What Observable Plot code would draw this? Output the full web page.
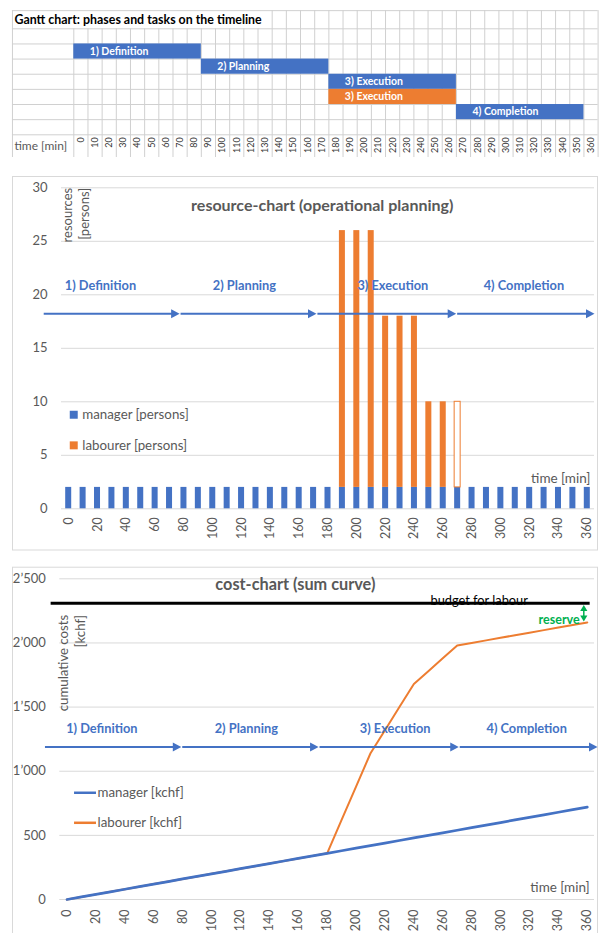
<!DOCTYPE html>
<html>
<head>
<meta charset="utf-8">
<script src="https://cdn.jsdelivr.net/npm/d3@7"></script>
<script src="https://cdn.jsdelivr.net/npm/@observablehq/plot@0.6"></script>
<style>
  html, body { margin: 0; padding: 0; background: #fff; }
  #wrap { position: relative; width: 602px; height: 933px; overflow: hidden; background: #fff; font-family: Lato, "Open Sans", sans-serif; }
  #wrap svg { position: absolute; left: 0; }
</style>
</head>
<body>
<div id="wrap"></div>
<script>
// ---------- data ----------
const times = [0,10,20,30,40,50,60,70,80,90,100,110,120,130,140,150,160,170,180,
               190,200,210,220,230,240,250,260,270,280,290,300,310,320,330,340,350,360];

const ganttTitle = "Gantt chart: phases and tasks on the timeline";
const ganttTask  = ["1) Definition", "2) Planning", "3) Execution", "3) Execution", "4) Completion"];
const ganttStart = [0, 90, 180, 180, 270];
const ganttEnd   = [90, 180, 270, 270, 360];
const ganttRow   = [1, 2, 3, 4, 5];
const ganttKind  = ["manager", "manager", "manager", "labourer", "manager"];

const managerPersons  = [2,2,2,2,2,2,2,2,2,2,2,2,2,2,2,2,2,2,2, 2,2,2,2,2,2,2,2,2, 2,2,2,2,2,2,2,2,2];
const labourerPersons = [0,0,0,0,0,0,0,0,0,0,0,0,0,0,0,0,0,0,0, 24,24,24,16,16,16,8,8,8, 0,0,0,0,0,0,0,0,0];
const labourerPlannedOnly = [270];

const managerCost  = [0,20,40,60,80,100,120,140,160,180,200,220,240,260,280,300,320,340,360,
                      380,400,420,440,460,480,500,520,540,560,580,600,620,640,660,680,700,720];
const labourerCost = [0,20,40,60,80,100,120,140,160,180,200,220,240,260,280,300,320,340,360,
                      620,880,1140,1320,1500,1680,1780,1880,1980,2000,2020,2040,2060,2080,2100,2120,2140,2160];
const budgetForLabour = 2310;

const resourceTicks   = [0, 5, 10, 15, 20, 25, 30];
const costTicks       = [0, 500, 1000, 1500, 2000, 2500];
const costTickLabels  = ["0", "500", "1’000", "1’500", "2’000", "2’500"];
const timeTickLabels  = [0,20,40,60,80,100,120,140,160,180,200,220,240,260,280,300,320,340,360];

const phaseNames   = ["1) Definition", "2) Planning", "3) Execution", "4) Completion"];
const phaseFrom    = [-17, 78, 173, 270];
const phaseTo      = [77, 172, 269, 365];
const phaseLabelAt = [22, 122, 225, 316];

const seriesColor = { manager: "#4472C4", labourer: "#ED7D31" };
const GRAY = "#595959";
const GRID = "#d9d9d9";

// ---------- derived tables ----------
const ganttData = ganttTask.map((task, i) => ({ task, start: ganttStart[i], end: ganttEnd[i], row: ganttRow[i], kind: ganttKind[i] }));
const resData = [];
times.forEach((t, i) => {
  resData.push({ t, series: "manager", value: managerPersons[i], hollow: false });
  resData.push({ t, series: "labourer", value: labourerPersons[i], hollow: labourerPlannedOnly.includes(t) });
});
const costData = times.map((t, i) => ({ t, manager: managerCost[i], labourer: labourerCost[i] }));
const phases = phaseNames.map((name, i) => ({ name, from: phaseFrom[i], to: phaseTo[i], at: phaseLabelAt[i] }));

// arrowhead symbols (tip at origin)
const headRight = { draw(c) { c.moveTo(0, 0); c.lineTo(-8.5, -4.5); c.lineTo(-8.5, 4.5); c.closePath(); } };
const headUp    = { draw(c) { c.moveTo(0, 0); c.lineTo(-3.6, 6); c.lineTo(3.6, 6); c.closePath(); } };
const headDown  = { draw(c) { c.moveTo(0, 0); c.lineTo(-3.6, -6); c.lineTo(3.6, -6); c.closePath(); } };

const baseStyle = { fontFamily: "Lato, 'Open Sans', sans-serif", fontSize: "12px", background: "transparent", overflow: "visible" };
const wrap = document.getElementById("wrap");

function phaseMarks(yArrow, yLabel, dx) {
  return [
    Plot.ruleY(phases, { x1: "from", x2: "to", y: yArrow, stroke: seriesColor.manager, strokeWidth: 2, insetRight: 5, dx }),
    Plot.dot(phases, { x: "to", y: yArrow, symbol: headRight, r: 4, fill: seriesColor.manager, stroke: "none", dx }),
    Plot.text(phases, { x: "at", y: yLabel, text: "name", fill: seriesColor.manager, fontWeight: "bold", fontSize: 12.8, dx })
  ];
}

// ---------- 1) Gantt ----------
const colLines = times.concat([370]);
const rowLines = [-1.2, 0, 1, 2, 3, 4, 5, 6, 7];
const gantt = Plot.plot({
  width: 602, height: 160, margin: 0,
  style: baseStyle,
  x: { type: "linear", domain: [0, 370], range: [73.3, 597.6], axis: null },
  y: { type: "linear", domain: [0, 7], range: [28.3, 134.3], axis: null },
  color: { type: "identity" },
  marks: [
    Plot.ruleY(rowLines, { y: d => d, x1: -43.3, x2: 370, stroke: "#d0d0d0" }),
    Plot.ruleX(colLines, { x: d => d, y1: d => (d >= 140 ? -1.2 : 0), y2: 8.5, stroke: "#d0d0d0" }),
    Plot.ruleX([-43.3], { x: d => d, y1: -1.2, y2: 8.5, stroke: "#d0d0d0" }),
    Plot.rect(ganttData, { x1: "start", x2: "end", y1: "row", y2: d => d.row + 1, fill: d => seriesColor[d.kind] }),
    Plot.text(ganttData, { x: "start", y: d => d.row + 0.5, text: "task", dx: 16, textAnchor: "start", fill: "white", fontWeight: "bold", fontSize: 10.5 }),
    Plot.text(times, { x: d => d + 5, y: 7, text: d => String(d), rotate: -90, textAnchor: "end", dy: 2.5, fontSize: 9, fill: "#333" }),
    Plot.text(["time [min]"], { x: -43.3, y: 7.75, text: d => d, dx: 2, textAnchor: "start", fontSize: 12, fill: GRAY }),
    Plot.text([ganttTitle], { x: -43.3, y: -0.6, text: d => d, dx: 2, textAnchor: "start", fontSize: 12.4, fontWeight: "bold", fill: "#000" })
  ]
});
gantt.style.top = "0px";
wrap.appendChild(gantt);

// ---------- 2) Resource chart ----------
const resource = Plot.plot({
  width: 602, height: 395, marginLeft: 12, marginRight: 5, marginTop: 16, marginBottom: 5.5,
  style: baseStyle,
  x: { type: "linear", domain: [-5, 365], range: [61, 594], axis: null },
  y: { type: "linear", domain: [0, 30], range: [348.3, 27.3], axis: null },
  color: { type: "identity" },
  marks: [
    Plot.frame({ stroke: GRID }),
    Plot.ruleY(resourceTicks, { y: d => d, x1: -5, x2: 365, stroke: GRID }),
    Plot.text(resourceTicks, { x: -5, y: d => d, text: d => String(d), dx: -14, textAnchor: "end", fill: GRAY, fontSize: 13 }),
    Plot.rectY(resData, {
      x1: d => d.t - 5, x2: d => d.t + 5, y: "value",
      fill: d => (d.hollow ? "white" : seriesColor[d.series]),
      stroke: d => (d.hollow ? seriesColor.labourer : "none"),
      strokeWidth: 1, insetLeft: 4.2, insetRight: 4.2
    }),
    Plot.text(timeTickLabels, { x: d => d, y: 0, text: d => String(d), rotate: -90, textAnchor: "end", dy: 8.5, fontSize: 12.5, fill: GRAY }),
    Plot.text(["resource-chart (operational planning)"], { x: 176, y: 28.35, text: d => d, fontSize: 16, fontWeight: "bold", fill: GRAY }),
    Plot.text(["resources\n[persons]"], { x: 4.7, y: 30, text: d => d, rotate: -90, textAnchor: "end", lineHeight: 1.3, fontSize: 13, fill: GRAY }),
    ...phaseMarks(18.22, 20.8, 0),
    Plot.dot(["manager", "labourer"], { x: 3.5, y: d => (d === "manager" ? 8.79 : 5.93), symbol: "square", r: 4.5, fill: d => seriesColor[d], stroke: "none" }),
    Plot.text(["manager [persons]", "labourer [persons]"], { x: 9.4, y: (d, i) => (i === 0 ? 8.79 : 5.93), text: d => d, textAnchor: "start", fontSize: 13.3, fill: GRAY }),
    Plot.text(["time [min]"], { x: 362.2, y: 2.86, text: d => d, textAnchor: "end", fontSize: 13.5, fill: GRAY })
  ]
});
resource.style.top = "160px";
wrap.appendChild(resource);

// ---------- 3) Cost chart ----------
const cost = Plot.plot({
  width: 602, height: 390, marginLeft: 12, marginRight: 5, marginTop: 11.7, marginBottom: 5,
  style: baseStyle,
  x: { type: "linear", domain: [-5, 365], range: [59.3, 594], axis: null },
  y: { type: "linear", domain: [0, 2500], range: [344, 23.3], axis: null },
  marks: [
    Plot.frame({ stroke: GRID }),
    Plot.ruleY(costTicks, { y: d => d, x1: -5, x2: 365, stroke: GRID }),
    Plot.text(costTicks, { x: -5, y: d => d, text: (d, i) => costTickLabels[i], dx: -14, textAnchor: "end", fill: GRAY, fontSize: 13 }),
    Plot.text(timeTickLabels, { x: d => d, y: 0, text: d => String(d), rotate: -90, textAnchor: "end", dy: 10, fontSize: 12.5, fill: GRAY }),
    Plot.line(costData, { x: "t", y: "labourer", stroke: seriesColor.labourer, strokeWidth: 2 }),
    Plot.line(costData, { x: "t", y: "manager", stroke: seriesColor.manager, strokeWidth: 2.75 }),
    Plot.ruleY([budgetForLabour], { y: d => d, x1: -11, x2: 362, stroke: "#000", strokeWidth: 3 }),
    Plot.text(["budget for labour"], { x: 251.5, y: budgetForLabour, text: d => d, textAnchor: "start", lineAnchor: "bottom", dy: 1.5, fontSize: 12.8, fill: "#000" }),
    Plot.ruleX([357.6], { x: d => d, y1: 2190, y2: 2275, stroke: "#00B050", strokeWidth: 1.5 }),
    Plot.dot([2295], { x: 357.6, y: d => d, symbol: headUp, r: 4, fill: "#00B050", stroke: "none" }),
    Plot.dot([2168], { x: 357.6, y: d => d, symbol: headDown, r: 4, fill: "#00B050", stroke: "none" }),
    Plot.text(["reserve"], { x: 354.7, y: 2182, text: d => d, textAnchor: "end", fontSize: 12.5, fontWeight: "bold", fill: "#00B050" }),
    Plot.text(["cost-chart (sum curve)"], { x: 158, y: 2454, text: d => d, fontSize: 16.3, fontWeight: "bold", fill: GRAY }),
    Plot.text(["cumulative costs\n[kchf]"], { x: 2.6, y: 2219, text: d => d, rotate: -90, textAnchor: "end", lineHeight: 1.3, fontSize: 13.2, fill: GRAY }),
    ...phaseMarks(1188, 1331, 3),
    Plot.ruleY([832, 598], { y: d => d, x1: 5.2, x2: 20.4, stroke: (d, i) => (i === 0 ? seriesColor.manager : seriesColor.labourer), strokeWidth: 2.5 }),
    Plot.text(["manager [kchf]", "labourer [kchf]"], { x: 20.4, y: (d, i) => (i === 0 ? 832 : 598), text: d => d, dx: 1, textAnchor: "start", fontSize: 13.3, fill: GRAY }),
    Plot.text(["time [min]"], { x: 361.7, y: 91, text: d => d, textAnchor: "end", fontSize: 13.5, fill: GRAY })
  ]
});
cost.style.top = "555px";
wrap.appendChild(cost);
</script>
</body>
</html>
